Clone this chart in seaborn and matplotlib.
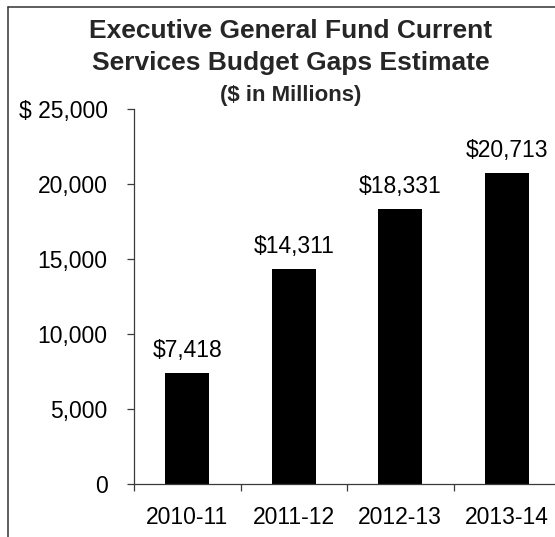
import matplotlib
matplotlib.use("Agg")
import matplotlib.pyplot as plt
from matplotlib.lines import Line2D
import seaborn as sns
import pandas as pd

# Budget gap estimates ($ millions) by fiscal year
years = ["2010-11", "2011-12", "2012-13", "2013-14"]
gaps = [7418, 14311, 18331, 20713]

y_ticks = [0, 5000, 10000, 15000, 20000, 25000]
y_tick_labels = ["0", "5,000", "10,000", "15,000", "20,000", "$ 25,000"]

title_lines = ["Executive General Fund Current", "Services Budget Gaps Estimate"]
subtitle = "($ in Millions)"

sns.set_style("white")
plt.rcParams["font.family"] = ["Liberation Sans", "DejaVu Sans"]

W, H = 555, 537
fig = plt.figure(figsize=(W / 100, H / 100), dpi=100)
fig.patch.set_facecolor("white")

# plot area in pixel terms: y-axis at x=134, baseline at y=484, top at y=109
ax = fig.add_axes([134 / W, 1 - 484 / H, 426 / W, 375 / H])

df = pd.DataFrame({"year": years, "gap": gaps})
sns.barplot(data=df, x="year", y="gap", color="black", saturation=1,
            width=0.41, ax=ax, edgecolor="black", linewidth=0)

ax.set_xlim(-0.5, 3.5)
ax.set_ylim(0, 25000)
ax.set_xlabel("")
ax.set_ylabel("")

axis_color = "#3a3a3a"
for side in ["top", "right"]:
    ax.spines[side].set_visible(False)
for side in ["left", "bottom"]:
    ax.spines[side].set_color(axis_color)
    ax.spines[side].set_linewidth(0.9)

# category labels centred under bars, tick marks on category boundaries
ax.set_xticks(range(len(years)))
ax.set_xticklabels(years)
ax.set_xticks([i - 0.5 for i in range(len(years) + 1)], minor=True)
ax.tick_params(axis="x", which="major", length=0, pad=16, labelsize=16.5,
               labelcolor="black")
ax.tick_params(axis="x", which="minor", length=5, width=0.9, direction="out",
               color=axis_color)

ax.set_yticks(y_ticks)
ax.set_yticklabels(y_tick_labels)
ax.tick_params(axis="y", which="major", length=5, width=0.9, direction="out",
               color=axis_color, pad=14, labelsize=16.5, labelcolor="black")
ax.tick_params(left=True, bottom=False)
ax.tick_params(axis="x", which="minor", bottom=True)

# value labels above each bar
ax.bar_label(ax.containers[0], labels=[f"${v:,.0f}" for v in gaps],
             padding=8, fontsize=16.5, color="black")

# title block
cx = 291 / W
fig.text(cx, 1 - 31 / H, title_lines[0], ha="center", va="center",
         fontsize=19, fontweight="bold")
fig.text(cx, 1 - 63 / H, title_lines[1], ha="center", va="center",
         fontsize=19, fontweight="bold")
fig.text(cx, 1 - 95 / H, subtitle, ha="center", va="center",
         fontsize=16, fontweight="bold")

# outer chart frame (left and top edges)
frame_color = "#333333"
fig.add_artist(Line2D([8 / W, 8 / W], [0, 1 - 7 / H], transform=fig.transFigure,
                      color=frame_color, linewidth=1.1))
fig.add_artist(Line2D([8 / W, 1], [1 - 7 / H, 1 - 7 / H], transform=fig.transFigure,
                      color=frame_color, linewidth=1.1))

fig.savefig("out.png", dpi=100)
